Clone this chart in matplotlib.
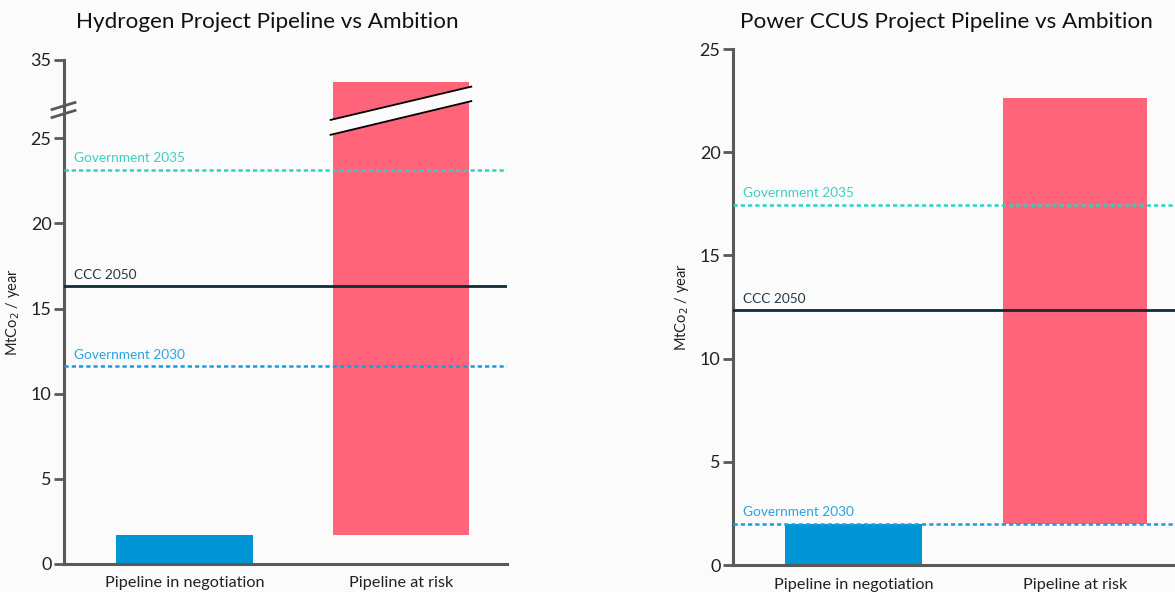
import numpy as np
import matplotlib
matplotlib.use("Agg")
import matplotlib.pyplot as plt
from matplotlib.patches import Polygon
from matplotlib.lines import Line2D

plt.rcParams['font.family'] = ['Lato', 'DejaVu Sans']

BG = '#fbfbfb'
GREY = '#595959'
BAR_COLORS = ['#0096d6', '#ff647a']

categories = ['Pipeline in negotiation', 'Pipeline at risk']

# hydrogen panel (MtCO2 / year)
h2_bottoms = [0, 1.7]
h2_tops = [1.7, 32.2]
h2_target_names = ['Government 2035', 'CCC 2050', 'Government 2030']
h2_target_values = [23.15, 16.3, 11.6]
h2_yticks = [0, 5, 10, 15, 20, 25, 35]

# power CCUS panel
ccus_bottoms = [0, 2.0]
ccus_tops = [2.0, 22.65]
ccus_target_names = ['Government 2035', 'CCC 2050', 'Government 2030']
ccus_target_values = [17.45, 12.35, 2.0]
ccus_yticks = [0, 5, 10, 15, 20, 25]

TARGET_STYLE = {
    'Government 2035': dict(color='#2dd4c4', ls=(0, (1.7, 1.2)), lw=1.8, tc='#3fcfc0'),
    'CCC 2050': dict(color='#0f2d35', ls='-', lw=2.0, tc='#1f3a44'),
    'Government 2030': dict(color='#1a9de0', ls=(0, (1.7, 1.2)), lw=1.8, tc='#2aa3e0'),
}

# piecewise scale for the broken hydrogen axis (25 -> 35 compressed)
BREAK = 25
K = 0.46


def fwd(v):
    v = np.asarray(v, dtype=float)
    return np.where(v <= BREAK, v, BREAK + (v - BREAK) * K)


def inv(t):
    t = np.asarray(t, dtype=float)
    return np.where(t <= BREAK, t, BREAK + (t - BREAK) / K)


def style_axes(ax, ylim, yticks, xlim):
    ax.set_facecolor(BG)
    ax.set_xlim(*xlim)
    ax.set_ylim(*ylim)
    ax.set_yticks(yticks)
    ax.set_yticklabels([str(t) for t in yticks])
    ax.set_xticks(range(len(categories)))
    ax.set_xticklabels(categories)
    for s in ['top', 'right']:
        ax.spines[s].set_visible(False)
    for s in ['left', 'bottom']:
        ax.spines[s].set_color(GREY)
        ax.spines[s].set_linewidth(2.2)
    ax.tick_params(axis='y', length=7, width=2, color=GREY, labelsize=13, pad=2, labelcolor='#222222')
    ax.tick_params(axis='x', length=0, labelsize=11.7, pad=9, labelcolor='#222222')
    ax.set_ylabel('MtCo$_2$ / year', fontsize=10.5, color='#222222', labelpad=6)


def draw_panel(ax, bottoms, tops, names, values, width):
    x = np.arange(len(categories))
    heights = np.array(tops) - np.array(bottoms)
    ax.bar(x, heights, bottom=bottoms, width=width, color=BAR_COLORS, zorder=2)
    for name, val in zip(names, values):
        st = TARGET_STYLE[name]
        ax.axhline(val, color=st['color'], ls=st['ls'], lw=st['lw'], zorder=3)
        ax.annotate(name, xy=(0, val), xycoords=('axes fraction', 'data'),
                    xytext=(7, 4), textcoords='offset points',
                    fontsize=9.8, color=st['tc'], va='bottom')


fig = plt.figure(figsize=(11.75, 5.92), dpi=100, facecolor=BG)

# ---- hydrogen ----
ax1 = fig.add_axes([64 / 1175, 28 / 592, 443 / 1175, 504 / 592])
ax1.set_yscale('function', functions=(fwd, inv))
draw_panel(ax1, h2_bottoms, h2_tops, h2_target_names, h2_target_values, 0.63)
style_axes(ax1, (0, 35), h2_yticks, (-0.557, 1.49))

# break band across the at-risk bar
half = 0.325
xb = np.array([1 - half, 1 + half])
upper = np.array([27.35, 31.6])
lower = np.array([25.45, 29.75])
band = Polygon([(xb[0], upper[0]), (xb[1], upper[1]), (xb[1], lower[1]), (xb[0], lower[0])],
               closed=True, facecolor=BG, edgecolor='none', zorder=4, clip_on=False)
ax1.add_patch(band)
ax1.plot(xb, upper, color='black', lw=1.3, zorder=5, clip_on=False)
ax1.plot(xb, lower, color='black', lw=1.3, zorder=5, clip_on=False)

# break marks on the axis
for dy in (0.0, -8):
    y0 = 1 - (109.5 - 60 - dy) / 504
    y1 = 1 - (102.5 - 60 - dy) / 504
    ax1.add_line(Line2D([-12 / 443, 11 / 443], [y0, y1], transform=ax1.transAxes,
                        color=GREY, lw=2, clip_on=False, zorder=6))

# ---- power CCUS ----
ax2 = fig.add_axes([733 / 1175, 27 / 592, 442 / 1175, 516 / 592])
draw_panel(ax2, ccus_bottoms, ccus_tops, ccus_target_names, ccus_target_values, [0.62, 0.65])
style_axes(ax2, (0, 25), ccus_yticks, (-0.544, 1.45))

fig.text(267.5 / 1175, 1 - 22 / 592, 'Hydrogen Project Pipeline vs Ambition',
         ha='center', va='center', fontsize=16.2, color='#111111')
fig.text(946 / 1175, 1 - 22 / 592, 'Power CCUS Project Pipeline vs Ambition',
         ha='center', va='center', fontsize=16.2, color='#111111')

fig.savefig('out.png', dpi=100, facecolor=BG)
